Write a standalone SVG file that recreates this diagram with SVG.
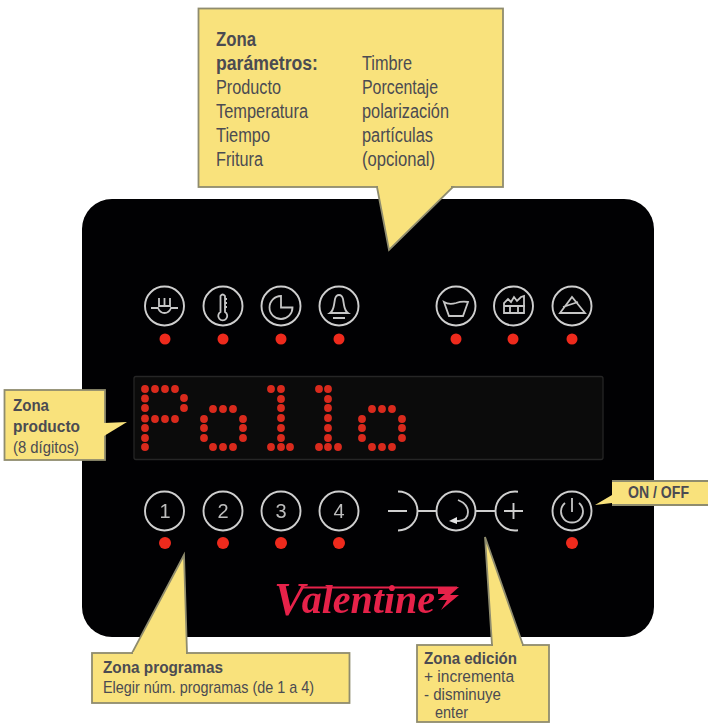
<svg xmlns="http://www.w3.org/2000/svg" width="708" height="723" viewBox="0 0 708 723">
<style>
text{font-family:"Liberation Sans",Arial,sans-serif;fill:#4b4b52}
.b{font-weight:700}
.t20{font-size:20px}
.t17{font-size:17px}
.t16{font-size:16px}
.box{fill:#f9e27c;stroke:#8f8c6e;stroke-width:1.8}
.seam{fill:#f9e27c}
.ring{fill:none;stroke:#cfcfcf;stroke-width:1.9}
.ic{fill:none;stroke:#c6c6c6;stroke-width:1.8}
.n{fill:#bdbdbd;font-size:20px;text-anchor:middle}
.led{fill:#ee2a1e}
.dot{fill:#d92a1e}
.logo{font-family:"Liberation Serif",serif;font-style:italic;font-weight:700;fill:#e6204a}
</style>
<defs>
<filter id="soft" x="-5%" y="-5%" width="110%" height="110%"><feGaussianBlur stdDeviation="0.55"/></filter>
<circle id="d" r="3.9"/>
</defs>
<rect width="708" height="723" fill="#fff"/>
<g id="panel">
<rect x="82" y="199" width="572" height="438" rx="30" fill="#010103"/>
<rect x="134" y="376.500" width="469" height="83" rx="2" fill="#0b0b0b" stroke="#262626" stroke-width="1.300"/>
</g>
<g id="display" class="dot" filter="url(#soft)">
<g id="letter-P"><use href="#d" x="145" y="389"/><use href="#d" x="155" y="389"/><use href="#d" x="165" y="389"/><use href="#d" x="175" y="389"/><use href="#d" x="184" y="398"/><use href="#d" x="184" y="408"/><use href="#d" x="145" y="398.500"/><use href="#d" x="145" y="408"/><use href="#d" x="145" y="418.500"/><use href="#d" x="155" y="419"/><use href="#d" x="165" y="419"/><use href="#d" x="175" y="419"/><use href="#d" x="145" y="428"/><use href="#d" x="145" y="438"/><use href="#d" x="145" y="447"/></g>
<g id="letter-o1"><use href="#d" x="213" y="409"/><use href="#d" x="223" y="409"/><use href="#d" x="233" y="409"/><use href="#d" x="204" y="419"/><use href="#d" x="204" y="428"/><use href="#d" x="204" y="438"/><use href="#d" x="243" y="419"/><use href="#d" x="243" y="428"/><use href="#d" x="243" y="438"/><use href="#d" x="213" y="447"/><use href="#d" x="223" y="447"/><use href="#d" x="233" y="447"/></g>
<g id="letter-l1"><use href="#d" x="271" y="389"/><use href="#d" x="281" y="389"/><use href="#d" x="281" y="399"/><use href="#d" x="281" y="408"/><use href="#d" x="281" y="418"/><use href="#d" x="281" y="428"/><use href="#d" x="281" y="438"/><use href="#d" x="271" y="447"/><use href="#d" x="281" y="447"/><use href="#d" x="290" y="447"/></g>
<g id="letter-l2"><use href="#d" x="319" y="389"/><use href="#d" x="328" y="389"/><use href="#d" x="328" y="399"/><use href="#d" x="328" y="408"/><use href="#d" x="328" y="418"/><use href="#d" x="328" y="428"/><use href="#d" x="328" y="438"/><use href="#d" x="319" y="447"/><use href="#d" x="328" y="447"/><use href="#d" x="338" y="447"/></g>
<g id="letter-o2"><use href="#d" x="372" y="409"/><use href="#d" x="382" y="409"/><use href="#d" x="392" y="409"/><use href="#d" x="362" y="419"/><use href="#d" x="362" y="428"/><use href="#d" x="362" y="438"/><use href="#d" x="402" y="419"/><use href="#d" x="402" y="428"/><use href="#d" x="402" y="438"/><use href="#d" x="372" y="447"/><use href="#d" x="382" y="447"/><use href="#d" x="392" y="447"/></g>
</g>
<g id="top-icons" filter="url(#soft)">
<g id="i1"><circle class="ring" cx="164.500" cy="306" r="19.500"/><path class="ic" d="M151 308h7q2 5 6.500 5t6.500-5h7M159 298v8h11v-8M164.500 298v8"/></g>
<g id="i2"><circle class="ring" cx="223" cy="306" r="19.500"/><path class="ic" d="M220.500 312v-16q2-3 4.500 0v16a4.500 4.500 0 1 1-4.500 0zM225 299h2M225 303h2M225 307h2"/></g>
<g id="i3"><circle class="ring" cx="281" cy="306" r="19.500"/><path class="ic" d="M281 296a11.500 11.500 0 1 0 11.500 11.500h-11.500z"/></g>
<g id="i4"><circle class="ring" cx="339" cy="306" r="19.500"/><path class="ic" d="M330 313q3-2 4-8l1-6q1-4 4-4t4 4l1 6q1 6 4 8zM333 318h12"/></g>
<g id="i5"><circle class="ring" cx="456" cy="306" r="19.500"/><path class="ic" d="M444 302q5 3 12 1q6-2 12-1l-5 14h-14z"/></g>
<g id="i6"><circle class="ring" cx="513.500" cy="306" r="19.500"/><path class="ic" d="M504 313v-10l4-4 3 3 3-5 3 4 4-4 3-1v17zM504 306h21M510 306v7M518 306v7"/></g>
<g id="i7"><circle class="ring" cx="572" cy="306" r="19.500"/><path class="ic" d="M560 313l12-16 13 16zM563 307l15-5"/></g>
<g class="led"><circle cx="165" cy="339" r="5.500"/><circle cx="223" cy="339" r="5.500"/><circle cx="281" cy="339" r="5.500"/><circle cx="339" cy="339" r="5.500"/><circle cx="456" cy="339" r="5.500"/><circle cx="513" cy="339" r="5.500"/><circle cx="572" cy="339" r="5.500"/></g>
</g>
<g id="bottom-buttons" filter="url(#soft)">
<g id="b1"><circle class="ring" cx="164.500" cy="511" r="19.500"/><text class="n" x="165" y="518">1</text></g>
<g id="b2"><circle class="ring" cx="223" cy="511" r="19.500"/><text class="n" x="223" y="518">2</text></g>
<g id="b3"><circle class="ring" cx="281" cy="511" r="19.500"/><text class="n" x="281" y="518">3</text></g>
<g id="b4"><circle class="ring" cx="339" cy="511" r="19.500"/><text class="n" x="339" y="518">4</text></g>
<g id="minus"><path class="ring" d="M398 491.500A19.500 19.500 0 0 1 398 530.500M388 511h19"/></g>
<g id="enter"><circle class="ring" cx="456" cy="511" r="19.500"/><path class="ic" d="M458 500q10 4 10 12t-9 9h-3"/><path d="M449 521l8-4v7z" fill="#e4e4e4"/></g>
<g id="plus"><path class="ring" d="M518 491.700Q516.500 491.500 515 491.500A19.500 19.500 0 0 0 515 530.500Q516.500 530.500 518 530.300M504 511h19M513.500 503v16"/></g>
<g id="power"><circle class="ring" cx="572" cy="511" r="19.500"/><path class="ic" d="M565 503a11 11 0 1 0 14 0M572 498v14"/></g>
<path id="links" class="ring" d="M417 511h20M476 511h19"/>
<g class="led"><circle cx="165" cy="543" r="6"/><circle cx="223" cy="543" r="6"/><circle cx="281" cy="543" r="6"/><circle cx="339" cy="543" r="6"/><circle cx="572" cy="543" r="6"/></g>
</g>
<g id="logo" filter="url(#soft)">
<text class="logo" x="274" y="615"><tspan font-size="46">V</tspan><tspan font-size="40" y="613" dx="-3">alentine</tspan></text>
<path d="M303 587.500H457" stroke="#e6204a" stroke-width="1.800" fill="none"/>
<path d="M438 587h21l-9 8h9l-18 15 6-10h-9l7-6h-7z" fill="#e6204a"/>
</g>
<g id="callout-parametros">
<rect class="box" x="198.500" y="8.500" width="304.500" height="178.500"/>
<polygon class="box" points="377,187 389,250 453,187"/>
<rect class="seam" x="378" y="185" width="73" height="3"/>
<text class="b t20" x="216" y="46" textLength="40" lengthAdjust="spacingAndGlyphs">Zona</text>
<text class="b t20" x="216" y="70" textLength="102" lengthAdjust="spacingAndGlyphs">parámetros:</text>
<text class="t20" x="216" y="94" textLength="65" lengthAdjust="spacingAndGlyphs">Producto</text>
<text class="t20" x="216" y="118" textLength="92" lengthAdjust="spacingAndGlyphs">Temperatura</text>
<text class="t20" x="216" y="142" textLength="54" lengthAdjust="spacingAndGlyphs">Tiempo</text>
<text class="t20" x="216" y="166" textLength="47" lengthAdjust="spacingAndGlyphs">Fritura</text>
<text class="t20" x="362" y="70" textLength="50" lengthAdjust="spacingAndGlyphs">Timbre</text>
<text class="t20" x="362" y="94" textLength="76" lengthAdjust="spacingAndGlyphs">Porcentaje</text>
<text class="t20" x="362" y="118" textLength="87" lengthAdjust="spacingAndGlyphs">polarización</text>
<text class="t20" x="362" y="142" textLength="71" lengthAdjust="spacingAndGlyphs">partículas</text>
<text class="t20" x="362" y="166" textLength="73" lengthAdjust="spacingAndGlyphs">(opcional)</text>
</g>
<g id="callout-producto">
<rect class="box" x="4.500" y="390" width="100.500" height="70"/>
<polygon class="seam" points="104,423 127,422 104,436"/>
<text class="b t17" x="13" y="411" textLength="36" lengthAdjust="spacingAndGlyphs">Zona</text>
<text class="b t17" x="13" y="432" textLength="67" lengthAdjust="spacingAndGlyphs">producto</text>
<text class="t17" x="13" y="453" textLength="66" lengthAdjust="spacingAndGlyphs">(8 dígitos)</text>
</g>
<g id="callout-programas">
<rect class="box" x="92" y="653" width="257.500" height="50"/>
<polygon class="box" points="184,555 187,653 132,653"/>
<rect class="seam" x="133" y="652" width="53" height="2.500"/>
<text class="b t17" x="103" y="673" textLength="120" lengthAdjust="spacingAndGlyphs">Zona programas</text>
<text class="t17" x="103" y="693" textLength="211" lengthAdjust="spacingAndGlyphs">Elegir núm. programas (de 1 a 4)</text>
</g>
<g id="callout-edicion">
<rect class="box" x="417" y="645" width="132" height="77"/>
<polygon class="box" points="485,537 492,645 523,645"/>
<rect class="seam" x="493" y="644" width="29" height="2.500"/>
<text class="b t16" x="424" y="664" textLength="93" lengthAdjust="spacingAndGlyphs">Zona edición</text>
<text class="t16" x="424" y="682" textLength="90" lengthAdjust="spacingAndGlyphs">+ incrementa</text>
<text class="t16" x="424" y="700" textLength="77" lengthAdjust="spacingAndGlyphs">- disminuye</text>
<text class="t16" x="435" y="718" textLength="33" lengthAdjust="spacingAndGlyphs">enter</text>
</g>
<g id="callout-onoff">
<path class="seam" d="M612 481H708V505H612V503L595 505L612 495Z"/>
<path d="M612 481H708M612 505H708" stroke="#8f8c6e" stroke-width="1.800" fill="none"/>
<text class="b t17" x="628" y="498" textLength="61" lengthAdjust="spacingAndGlyphs">ON / OFF</text>
</g>
</svg>
